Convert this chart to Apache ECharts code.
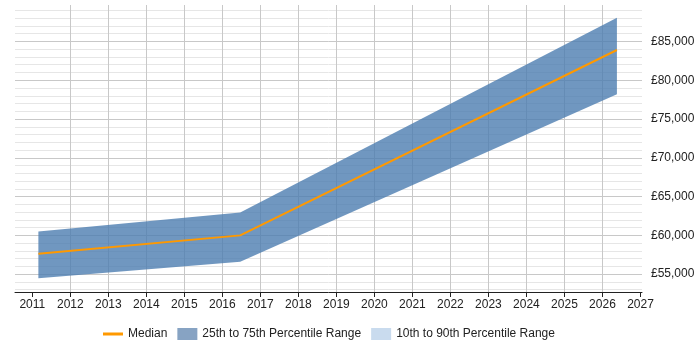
<!DOCTYPE html>
<html>
<head>
<meta charset="utf-8">
<script src="https://cdn.jsdelivr.net/npm/echarts@6/dist/echarts.min.js"></script>
<style>
  html, body { margin: 0; padding: 0; background: #fff; }
  #chart { width: 700px; height: 350px; }
</style>
</head>
<body>
<div id="chart"></div>
<script>
// data (x = fractional year)
const years = [2011.16, 2016.47, 2026.38];
const median = [57640, 60000, 83900];
const p25 = [54460, 56610, 78200];
const p75 = [60510, 62960, 88060];

const xTicks = [2011, 2012, 2013, 2014, 2015, 2016, 2017, 2018, 2019, 2020, 2021, 2022, 2023, 2024, 2025, 2026, 2027];
const yTicks = [55000, 60000, 65000, 70000, 75000, 80000, 85000];

const FONT = '"Liberation Sans", Arial, sans-serif';
const TXT = '#222';

const chart = echarts.init(document.getElementById('chart'));

const bandRows = years.map((y, i) => [y, p25[i], p75[i]]);
const medPts = years.map((y, i) => [y, median[i]]);

// band polygon: upper edge forwards, lower edge back
function renderBand(params, api) {
  if (params.dataIndex !== 0) return null;
  const upper = bandRows.map(r => api.coord([r[0], r[2]]));
  const lower = bandRows.map(r => api.coord([r[0], r[1]])).reverse();
  return {
    type: 'polygon',
    shape: { points: upper.concat(lower) },
    style: { fill: '#4c7db0', opacity: 0.8 }
  };
}

chart.setOption({
  animation: false,
  grid: { left: 15, right: 58, top: 5, bottom: 58, containLabel: false },
  legend: {
    left: 103, top: 328, padding: 0, itemGap: 10,
    itemWidth: 20, itemHeight: 12,
    textStyle: { color: TXT, fontSize: 12, fontFamily: FONT },
    data: [
      { name: 'Median', icon: 'path://M0 0H20V3H0Z', itemStyle: { color: '#ff9900' } },
      { name: '25th to 75th Percentile Range', icon: 'rect', itemStyle: { color: '#87a3c3' } },
      { name: '10th to 90th Percentile Range', icon: 'rect', itemStyle: { color: '#c9dbee' } }
    ]
  },
  xAxis: {
    type: 'value',
    min: 2010.545, max: 2027.04,
    splitNumber: 16,
    axisLine: { lineStyle: { color: TXT, width: 1 } },
    axisTick: { length: 5, customValues: xTicks, lineStyle: { color: TXT } },
    axisLabel: {
      customValues: xTicks, margin: 7,
      color: TXT, fontSize: 12, fontFamily: FONT,
      formatter: v => String(v)
    },
    splitLine: { show: true, showMinLine: false, showMaxLine: false, lineStyle: { color: '#c8c8c8' } }
  },
  yAxis: [
    {
      type: 'value', position: 'right',
      min: 52700, max: 89700, splitNumber: 7,
      axisLine: { show: false }, axisTick: { show: false },
      axisLabel: {
        customValues: yTicks, margin: 9,
        color: TXT, fontSize: 12, fontFamily: FONT,
        formatter: v => '£' + v.toLocaleString('en-GB')
      },
      splitLine: { show: true, showMinLine: false, showMaxLine: false, lineStyle: { color: '#c8c8c8' } },
      z: 1
    },
    {
      type: 'value', position: 'right',
      min: 52700, max: 89700, splitNumber: 37,
      axisLine: { show: false }, axisTick: { show: false }, axisLabel: { show: false },
      splitLine: { show: true, showMinLine: false, showMaxLine: false, lineStyle: { color: '#e6e6e6' } },
      z: 0
    }
  ],
  series: [
    {
      name: '25th to 75th Percentile Range', type: 'custom',
      renderItem: renderBand, data: bandRows,
      encode: { x: 0, y: [1, 2] }, silent: true,
      itemStyle: { color: '#87a3c3' }
    },
    {
      name: '10th to 90th Percentile Range', type: 'line', data: [], symbol: 'none'
    },
    {
      name: 'Median', type: 'line', data: medPts, symbol: 'none', z: 5,
      lineStyle: { color: '#ff9900', width: 2 }
    }
  ]
});
</script>
</body>
</html>
